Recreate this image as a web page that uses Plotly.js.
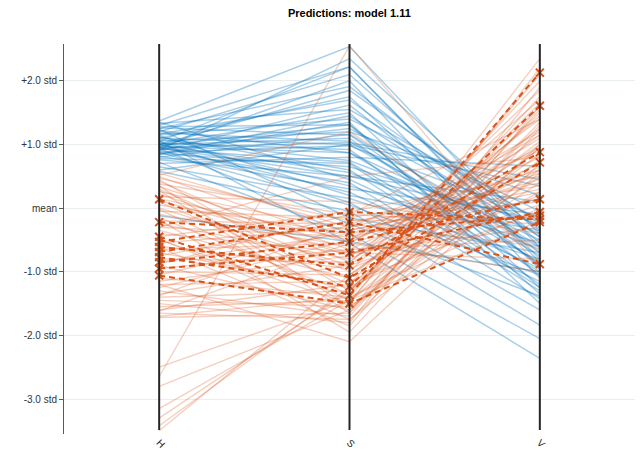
<!DOCTYPE html>
<html>
<head>
<meta charset="utf-8">
<script src="https://cdn.plot.ly/plotly-3.0.1.min.js"></script>
<style>html,body{margin:0;padding:0;background:#fff;}#chart{width:641px;height:453px;}</style>
</head>
<body>
<div id="chart"></div>
<script>
var coordinates = ['H', 'S', 'V'];
var coordPos = [1, 2, 3];
var yTickVals = [2, 1, 0, -1, -2, -3];
var yTickText = ['+2.0 std', '+1.0 std', 'mean', '-1.0 std', '-2.0 std', '-3.0 std'];

// Group 1 (blue)
var blueH = [1.37,1.30,1.05,1.20,0.95,1.25,1.10,0.90,1.33,1.00,0.85,1.15,0.98,1.28,0.92,1.05,0.80,1.00,1.18,0.95,0.88,1.02,1.22,0.97,0.70,1.08,0.93,0.86,1.12,0.99,0.76,1.35,0.90,1.04,0.82,0.96,1.14,0.65,1.01,0.88,0.58,1.24,0.94,0.72,1.06,-0.12,0.60,1.16,0.84,1.00,0.95,1.10,0.78,1.26,0.91];
var blueS = [2.54,2.22,2.22,2.10,2.00,1.91,1.75,1.62,1.55,1.50,1.45,1.40,1.31,1.31,1.25,1.20,1.16,1.10,1.05,1.03,0.98,0.92,0.87,0.87,0.80,0.75,0.72,0.65,0.60,0.56,0.50,0.45,0.40,0.35,0.30,0.25,0.20,0.15,0.09,0.05,-0.05,-0.15,-0.25,-0.40,-0.55,-0.53,1.00,1.70,1.35,1.85,0.50,1.00,0.70,1.15,2.35];
var blueV = [-0.62,-0.85,-0.80,-0.55,-1.10,-0.35,-0.95,-0.70,-0.20,-1.25,-0.45,-0.05,-0.90,-1.35,-0.30,0.20,-0.60,-1.05,-0.75,0.45,-0.15,-1.20,-0.50,-0.85,0.66,-0.40,-1.00,-0.25,-1.30,-0.65,0.10,-0.95,-1.42,-0.55,-0.10,-1.15,-0.35,-0.80,-1.60,-1.05,-1.84,-0.70,-1.38,-2.05,-2.36,-1.00,0.35,-0.45,-1.50,-0.25,-0.20,-0.62,-1.25,-0.88,-0.40];

// Group 2 (orange)
var orangeH = [0.55,0.50,0.47,0.42,0.38,0.34,0.30,0.26,0.22,0.18,0.15,0.10,0.05,0.00,-0.05,-0.10,-0.15,-0.20,-0.25,-0.30,-0.35,-0.40,-0.45,-0.50,-0.55,-0.60,-0.65,-0.70,-0.75,-0.80,-0.85,-0.90,-0.95,-1.00,-1.05,-1.10,-1.15,-1.20,-1.25,-1.30,-1.35,-1.40,-1.45,-1.50,-1.55,-1.60,-1.65,-1.70,-1.72,-1.20,-2.50,-2.65,-2.80,-3.15,-3.30,-3.42,-3.50,0.52,-0.30,0.28,-0.62,-0.02,0.45,-1.38,-0.88,0.12,-0.48,0.35,-1.62,-0.18];
var orangeS = [-0.30,-0.55,-0.20,-0.85,-0.10,-0.65,-1.00,-0.35,-0.75,0.10,-0.50,-1.20,-0.40,-0.90,-0.15,-0.60,-1.35,-0.25,-0.80,-0.45,-1.10,-0.70,-0.05,-1.50,-0.30,-0.95,-0.55,-1.25,-0.20,-0.85,-0.40,-1.60,-0.65,-1.05,-0.35,-1.40,-0.75,-1.15,-0.50,-1.70,-0.90,-1.30,-1.55,-1.80,-1.45,-1.20,-1.75,-1.40,-1.65,-2.10,-1.45,2.55,-1.60,-1.45,-1.30,-1.25,-1.05,1.20,0.50,-1.65,-1.85,-1.45,-1.30,-0.25,-0.10,-0.70,-1.75,-1.55,-0.55,-1.95];
var orangeV = [0.40,0.95,0.10,1.40,-0.25,0.70,1.85,0.25,1.10,-0.40,0.55,2.00,-0.10,1.25,0.35,0.80,1.60,-0.60,0.60,0.15,1.45,-0.30,0.50,2.35,0.90,0.20,1.15,0.75,-0.15,1.70,0.45,1.30,-0.50,1.00,0.30,2.10,0.65,-0.05,1.20,1.55,0.05,0.85,0.40,1.90,-0.20,1.05,0.55,0.00,1.35,0.70,1.75,-0.95,0.95,0.60,1.50,0.25,1.15,-0.70,0.80,2.20,1.60,0.95,1.65,0.60,1.40,-0.80,1.00,0.50,-1.00,1.25];

// Predictions (dashed, x markers)
var predH = [0.14,-0.22,-0.45,-0.53,-0.61,-0.69,-0.77,-0.85,-0.95,-1.06];
var predS = [-1.10,-0.38,-1.37,-0.06,-0.90,-0.22,-1.23,-0.53,-0.70,-1.50];
var predV = [0.72,-0.12,2.13,-0.18,0.88,-0.88,1.61,0.14,-0.06,-0.22];

var BLUE = 'rgba(0,114,189,0.34)';
var ORANGE = 'rgba(217,83,25,0.28)';
var ORANGE_SOLID = 'rgb(217,83,25)';

var traces = [];
function addGroup(H, S, V, color, width, dash, marker) {
  for (var i = 0; i < H.length; i++) {
    var t = {
      type: 'scatter',
      x: coordPos,
      y: [H[i], S[i], V[i]],
      mode: marker ? 'lines+markers' : 'lines',
      line: {color: color, width: width, dash: dash},
      hoverinfo: 'skip',
      showlegend: false
    };
    if (marker) t.marker = {symbol: 'x-thin', size: 8, line: {color: color, width: 2}, color: color};
    traces.push(t);
  }
}
addGroup(blueH, blueS, blueV, BLUE, 1.5, 'solid', false);
addGroup(orangeH, orangeS, orangeV, ORANGE, 1.4, 'solid', false);
addGroup(predH, predS, predV, ORANGE_SOLID, 2, '6px,4px', true);

var shapes = coordPos.map(function (p) {
  return {type: 'line', xref: 'x', yref: 'paper', x0: p, x1: p, y0: 0.01, y1: 1,
          line: {color: '#262626', width: 2}, layer: 'above'};
});

var layout = {
  width: 641, height: 453,
  margin: {l: 64, r: 6, t: 44, b: 19},
  paper_bgcolor: '#fff', plot_bgcolor: '#fff',
  title: {text: '<b>Predictions: model 1.11</b>', x: 0.545, xanchor: 'center', y: 0.972, yanchor: 'middle',
          font: {family: 'Liberation Sans, Arial, sans-serif', size: 11, color: '#000'}},
  xaxis: {range: [0.5, 3.5], tickvals: coordPos, ticktext: coordinates, tickangle: 45,
          showgrid: false, zeroline: false, showline: false, ticks: '', automargin: false,
          tickfont: {family: 'Liberation Sans, Arial, sans-serif', size: 10, color: '#262626'}},
  yaxis: {range: [-3.55, 2.58], tickvals: yTickVals, ticktext: yTickText,
          showgrid: true, gridcolor: '#e9eef0', gridwidth: 1, zeroline: false,
          showline: true, linecolor: '#5a5a5a', linewidth: 1, ticks: 'outside', ticklen: 4,
          tickcolor: '#5a5a5a', automargin: false,
          tickfont: {family: 'Liberation Sans, Arial, sans-serif', size: 10, color: '#333'}},
  shapes: shapes,
  showlegend: false
};

Plotly.newPlot('chart', traces, layout, {displayModeBar: false, staticPlot: true});
</script>
</body>
</html>
